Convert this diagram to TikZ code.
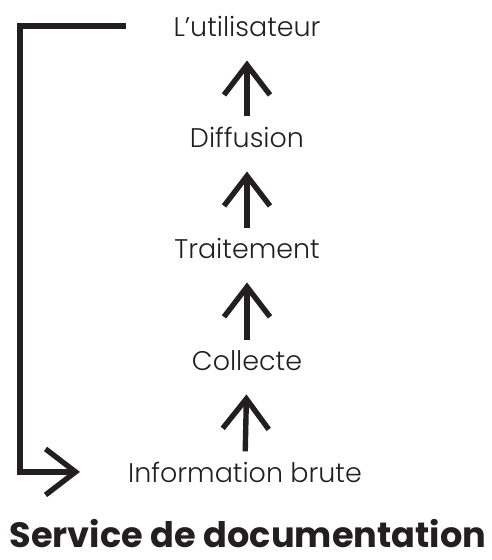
\documentclass[tikz,border=0pt]{standalone}
\usepackage{fontspec}
\setmainfont{Poppins}
\newfontfamily\legere{Poppins Light}
\usepackage{tikz}
\usetikzlibrary{arrows.meta, positioning}
\definecolor{inkgray}{HTML}{231F20}

\begin{document}
\begin{tikzpicture}[
  x=0.03cm, y=-0.03cm,
  etape/.style={anchor=base, inner sep=0pt, text=inkgray, font=\legere\fontsize{23}{27}\selectfont},
  titre/.style={anchor=base, inner sep=0pt, text=inkgray, font=\bfseries\fontsize{30}{36}\selectfont},
  montee/.style={-{Straight Barb[length=0.9cm, width=1.38cm]}, line width=4.6pt, color=inkgray, shorten <=0.3cm, shorten >=0.72cm},
  retour/.style={-{Straight Barb[length=0.9cm, width=1.38cm]}, line width=4.6pt, color=inkgray},
]
\useasboundingbox (0,0) rectangle (491,560);
% --- etapes ---
\node[etape] (util) at (247,36) {L’utilisateur};
\node[etape] (diff) at (247,147) {Diffusion};
\node[etape] (trait) at (247,258) {Traitement};
\node[etape] (coll) at (247,370) {Collecte};
\node[etape] (info) at (245,482) {Information brute};
\node[titre] (serv) at (248,547) {Service de documentation};

% --- fleches ---
\draw[montee] (info.north) -- (coll.south);
\draw[montee] (coll.north) -- (trait.south);
\draw[montee] (trait.north) -- (diff.south);
\draw[montee] (diff.north) -- (util.south);

% --- boucle de retour ---
\coordinate (rail) at (20,0);
\draw[retour, shorten <=1.41cm, shorten >=1.44cm] (util.west) -- (util.west -| rail) |- (info.west);
\end{tikzpicture}
\end{document}
